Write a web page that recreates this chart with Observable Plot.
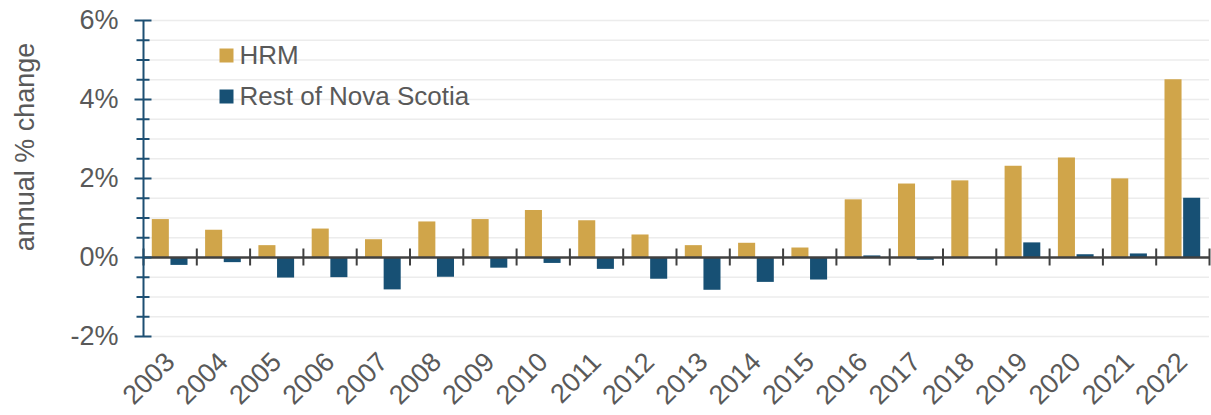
<!DOCTYPE html>
<html>
<head>
<meta charset="utf-8">
<script src="https://cdn.jsdelivr.net/npm/d3@7"></script>
<script src="https://cdn.jsdelivr.net/npm/@observablehq/plot@0.6"></script>
<style>
  html, body { margin: 0; padding: 0; background: #ffffff; }
  #chart svg { display: block; }
</style>
</head>
<body>
<div id="chart"></div>
<script>
// ---- data ----
const years = [2003, 2004, 2005, 2006, 2007, 2008, 2009, 2010, 2011, 2012,
               2013, 2014, 2015, 2016, 2017, 2018, 2019, 2020, 2021, 2022];
const hrm  = [0.96, 0.69, 0.30, 0.72, 0.45, 0.90, 0.96, 1.19, 0.93, 0.57,
              0.30, 0.36, 0.24, 1.46, 1.86, 1.94, 2.31, 2.52, 1.99, 4.50];
const rest = [-0.20, -0.13, -0.52, -0.51, -0.82, -0.50, -0.27, -0.15, -0.30, -0.55,
              -0.83, -0.63, -0.57, 0.04, -0.07, 0.00, 0.37, 0.07, 0.09, 1.50];
const seriesNames = ["HRM", "Rest of Nova Scotia"];
const seriesColors = ["#D0A54A", "#175074"];
const yTickValues = [-2, 0, 2, 4, 6];
const yMinorValues = [-1.5, -1, -0.5, 0.5, 1, 1.5, 2.5, 3, 3.5, 4.5, 5, 5.5];
const yTitle = "annual % change";

// ---- build table ----
const rows = years.flatMap((yr, i) => [
  {year: yr, series: seriesNames[0], value: hrm[i]},
  {year: yr, series: seriesNames[1], value: rest[i]}
]);
const xMin = years[0] - 0.5, xMax = years[years.length - 1] + 0.5;
const boundaries = years.map(y => y - 0.5).concat([xMax]);
const gridValues = yMinorValues.concat(yTickValues).filter(v => v !== 0);

// layout of the two bars within one year (fraction of a year)
const BAR_W = 0.32, GAP = 0.03;
const barOffset = {
  [seriesNames[0]]: [-GAP / 2 - BAR_W, -GAP / 2],
  [seriesNames[1]]: [GAP / 2, GAP / 2 + BAR_W]
};

const textColor = "#595959";
const axisBlue = "#1d4f73";
const darkLine = "#404040";
const font = "'Liberation Sans', Arial, sans-serif";

const chart = Plot.plot({
  width: 1211,
  height: 415,
  marginLeft: 143,
  marginRight: 2,
  marginTop: 20,
  marginBottom: 79,
  x: {domain: [xMin, xMax], axis: null},
  y: {domain: [-2, 6], axis: null},
  color: {domain: seriesNames, range: seriesColors},
  style: {fontFamily: font, color: textColor, background: "#ffffff", overflow: "visible"},
  marks: [
    // gridlines
    Plot.ruleY(gridValues, {stroke: "#ececec", strokeWidth: 1.5}),
    // bars
    Plot.rectY(rows, {
      x1: d => d.year + barOffset[d.series][0],
      x2: d => d.year + barOffset[d.series][1],
      y: "value",
      fill: "series"
    }),
    // zero line
    Plot.ruleY([0], {stroke: darkLine, strokeWidth: 2.5}),
    // category boundary ticks crossing zero line
    Plot.ruleX(boundaries, {y1: 0, y2: 0, insetTop: -8.5, insetBottom: -8.5, stroke: darkLine, strokeWidth: 2}),
    // y axis line
    Plot.ruleX([xMin], {y1: -2, y2: 6, stroke: axisBlue, strokeWidth: 2}),
    // y major ticks (both sides)
    Plot.ruleY(yTickValues, {x1: xMin, x2: xMin, insetLeft: -8.5, insetRight: -8.5, stroke: axisBlue, strokeWidth: 2}),
    // y minor ticks
    Plot.ruleY(yMinorValues, {x1: xMin, x2: xMin, insetLeft: -6.5, insetRight: -6.5, stroke: axisBlue, strokeWidth: 2}),
    // y tick labels
    Plot.axisY({ticks: yTickValues, tickSize: 0, tickPadding: 25, tickFormat: d => d + "%",
                fontSize: 27, fill: textColor, label: null}),
    // x tick labels
    Plot.axisX({ticks: years, tickSize: 0, tickPadding: 21, tickRotate: -45,
                tickFormat: d => String(d), fontSize: 27, fill: textColor, label: null}),
    // y title
    Plot.text([yTitle], {frameAnchor: "left", dx: -118, dy: -31.5, rotate: -90,
                         textAnchor: "middle", lineAnchor: "middle",
                         text: d => d, fontSize: 27, fill: textColor}),
    // legend
    Plot.dot([seriesNames[0]], {frameAnchor: "top-left", dx: 83, dy: 35, symbol: "square", r: 7.9, fill: seriesColors[0]}),
    Plot.dot([seriesNames[1]], {frameAnchor: "top-left", dx: 83, dy: 76, symbol: "square", r: 7.9, fill: seriesColors[1]}),
    Plot.text([seriesNames[0]], {frameAnchor: "top-left", dx: 96, dy: 35, text: d => d,
                                 textAnchor: "start", lineAnchor: "middle", fontSize: 26, fill: textColor}),
    Plot.text([seriesNames[1]], {frameAnchor: "top-left", dx: 96, dy: 76, text: d => d,
                                 textAnchor: "start", lineAnchor: "middle", fontSize: 26, fill: textColor})
  ]
});
document.getElementById("chart").appendChild(chart);
</script>
</body>
</html>
